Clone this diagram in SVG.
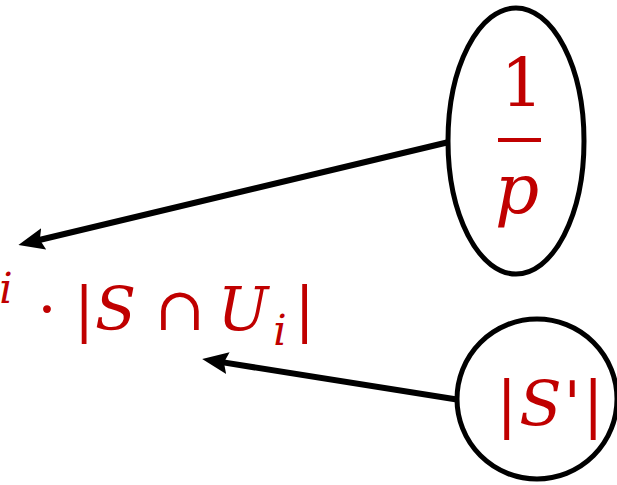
<svg xmlns="http://www.w3.org/2000/svg" width="617" height="485" viewBox="0 0 617 485">
  <style>
    .m { font-family: "DejaVu Serif", "Liberation Serif", serif; fill: #C00000; text-anchor: middle; }
    .it { font-style: italic; }
    .node { fill: #FFFFFF; stroke: #000000; stroke-width: 5; }
    .edge { stroke: #000000; stroke-width: 6; fill: none; }
  </style>
  <defs>
    <marker id="ah" markerUnits="userSpaceOnUse" markerWidth="26" markerHeight="24" viewBox="0 0 26 24" refX="11" refY="12" orient="auto">
      <path d="M0,1 L26,12 L0,23 L4,12 Z" fill="#000000"/>
    </marker>
  </defs>
  <rect width="617" height="485" fill="#FFFFFF"/>

  <g id="connectors">
    <line class="edge" x1="449" y1="142" x2="33" y2="241.5" marker-end="url(#ah)"/>
    <line class="edge" x1="460" y1="400" x2="217" y2="361.4" marker-end="url(#ah)"/>
  </g>

  <g id="expression">
    <text class="m" font-size="60"><tspan class="it" x="6" y="303" font-size="42">i</tspan><tspan x="47" y="330">·</tspan><tspan x="84" y="330">|</tspan><tspan class="it" x="115.5" y="330">S</tspan><tspan x="180" y="330">∩</tspan><tspan class="it" x="243" y="330">U</tspan><tspan class="it" x="280" y="345" font-size="42">i</tspan><tspan x="304.5" y="330">|</tspan></text>
  </g>

  <g id="node-one-over-p">
    <ellipse class="node" cx="516" cy="141" rx="68" ry="133"/>
    <text class="m" x="522" y="106" font-size="67">1</text>
    <rect x="498" y="138" width="43" height="4" fill="#C00000"/>
    <text class="m it" x="517" y="213" font-size="69">p</text>
  </g>

  <g id="node-s-prime">
    <circle class="node" cx="537" cy="399" r="80"/>
    <text class="m" x="551" y="425" font-size="62" letter-spacing="2">|<tspan class="it">S'</tspan>|</text>
  </g>
</svg>
